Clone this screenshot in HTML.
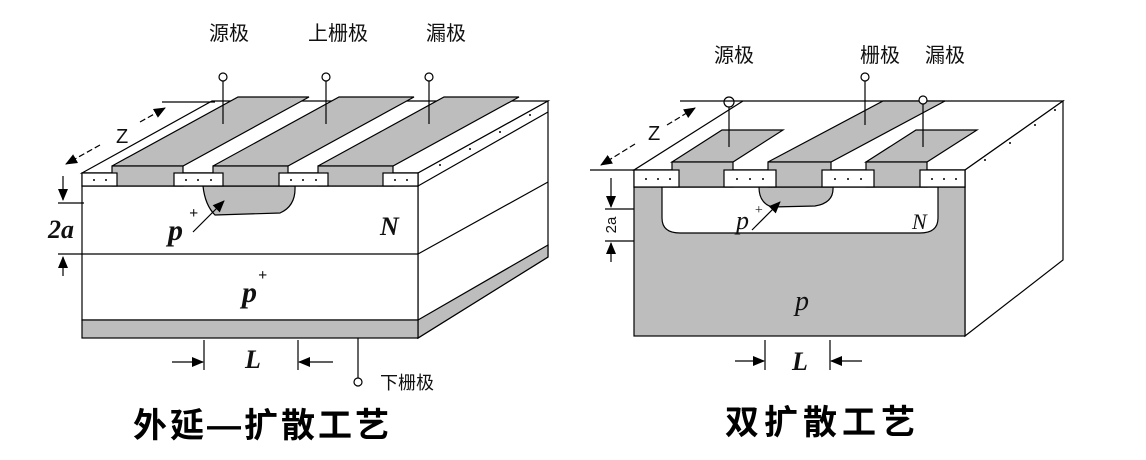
<!DOCTYPE html>
<html><head><meta charset="utf-8"><style>
html,body{margin:0;padding:0;background:#fff;}
svg{display:block;}
.cj{font-family:"Liberation Sans","Noto Sans CJK SC",sans-serif;}
.it{font-family:"Liberation Serif",serif;font-style:italic;}
</style></head><body>
<svg width="1146" height="460" viewBox="0 0 1146 460" xmlns="http://www.w3.org/2000/svg">
<defs>
<marker id="ah" markerWidth="12" markerHeight="10" refX="11" refY="5" orient="auto" markerUnits="userSpaceOnUse"><path d="M0,0 L12,5 L0,10 z" fill="#000"/></marker>
</defs>
<g stroke="#000" stroke-width="1.2" fill="none">
<polygon points="82,173 212,101 548,101 418,173" fill="#fff"/>
<polygon points="418,173 548,101 548,257 418,338" fill="#fff"/>
<polygon points="418,320 548,245 548,257 418,338" fill="#bdbdbd"/>
<line x1="418" y1="186" x2="548" y2="112"/>
<line x1="418" y1="254" x2="548" y2="182"/>
<rect x="82" y="186" width="336" height="134" fill="#fff"/>
<rect x="82" y="320" width="336" height="18" fill="#bdbdbd"/>
<line x1="82" y1="254" x2="418" y2="254"/>
<path d="M203,186 L295,186 Q296,206 280,213 L215,215 Q205,205 203,186 z" fill="#bdbdbd"/>
<rect x="82" y="173" width="336" height="13" fill="#fff"/>
<polygon points="112,166 238,97 309,97 183,166" fill="#bdbdbd"/>
<polygon points="213,166 339,97 414,97 288,166" fill="#bdbdbd"/>
<polygon points="318,166 444,97 519,97 393,166" fill="#bdbdbd"/>
<rect x="112" y="166" width="71" height="20" fill="#bdbdbd"/>
<rect x="213" y="166" width="75" height="20" fill="#bdbdbd"/>
<rect x="318" y="166" width="75" height="20" fill="#bdbdbd"/>
<rect x="82" y="173" width="35" height="13" fill="#fff"/>
<rect x="174" y="173" width="49" height="13" fill="#fff"/>
<rect x="279" y="173" width="49" height="13" fill="#fff"/>
<rect x="383" y="173" width="35" height="13" fill="#fff"/>
<line x1="223" y1="81" x2="223" y2="124"/>
<line x1="326" y1="81" x2="326" y2="124"/>
<line x1="429" y1="81" x2="429" y2="124"/>
<circle cx="223" cy="77" r="4" fill="#fff"/>
<circle cx="326" cy="77" r="4" fill="#fff"/>
<circle cx="429" cy="77" r="4" fill="#fff"/>
<line x1="162" y1="102" x2="215" y2="102"/>
<line x1="140" y1="122" x2="165" y2="108" stroke-dasharray="6,3" marker-end="url(#ah)"/>
<line x1="100" y1="145" x2="66" y2="164" stroke-dasharray="6,3" marker-end="url(#ah)"/>
<line x1="63" y1="176" x2="63" y2="200" marker-end="url(#ah)"/>
<line x1="58" y1="203" x2="84" y2="203"/>
<line x1="58" y1="254" x2="82" y2="254"/>
<line x1="63" y1="276" x2="63" y2="257" marker-end="url(#ah)"/>
<line x1="193" y1="232" x2="224" y2="201" marker-end="url(#ah)"/>
<line x1="204" y1="340" x2="204" y2="370"/>
<line x1="298" y1="340" x2="298" y2="370"/>
<line x1="172" y1="362" x2="203" y2="362" marker-end="url(#ah)"/>
<line x1="333" y1="362" x2="299" y2="362" marker-end="url(#ah)"/>
<line x1="358" y1="338" x2="358" y2="378"/>
<circle cx="358" cy="382" r="4" fill="#fff"/>

<polygon points="634,170 743,101 1063,101 965,170" fill="#fff"/>
<polygon points="965,170 1063,101 1063,260 965,336" fill="#fff"/>
<rect x="634" y="187" width="331" height="149" fill="#bdbdbd"/>
<path d="M662,187 L662,218 Q662,233 680,233 L920,233 Q938,233 938,218 L938,187 z" fill="#fff"/>
<path d="M759,187 L833,187 Q834,203 815,206 L772,207 Q759,203 759,187 z" fill="#bdbdbd"/>
<rect x="634" y="170" width="331" height="17" fill="#fff"/>
<polygon points="672,162 722,130 783,130 733,162" fill="#bdbdbd"/>
<polygon points="768,162 883,101 945,101 831,162" fill="#bdbdbd"/>
<polygon points="866,162 916,130 977,130 927,162" fill="#bdbdbd"/>
<rect x="672" y="162" width="61" height="25" fill="#bdbdbd"/>
<rect x="768" y="162" width="63" height="25" fill="#bdbdbd"/>
<rect x="866" y="162" width="61" height="25" fill="#bdbdbd"/>
<rect x="634" y="170" width="45" height="17" fill="#fff"/>
<rect x="724" y="170" width="52" height="17" fill="#fff"/>
<rect x="822" y="170" width="52" height="17" fill="#fff"/>
<rect x="920" y="170" width="45" height="17" fill="#fff"/>
<line x1="729" y1="107" x2="729" y2="147"/>
<line x1="865" y1="81" x2="865" y2="125"/>
<line x1="923" y1="104" x2="923" y2="147"/>
<circle cx="729" cy="102" r="5" fill="#fff"/>
<circle cx="865" cy="77" r="4" fill="#fff"/>
<circle cx="923" cy="100" r="4" fill="#fff"/>
<line x1="680" y1="101" x2="743" y2="101"/>
<line x1="590" y1="170" x2="634" y2="170"/>
<line x1="667" y1="125" x2="695" y2="108" stroke-dasharray="6,3" marker-end="url(#ah)"/>
<line x1="635" y1="144" x2="601" y2="165" stroke-dasharray="6,3" marker-end="url(#ah)"/>
<line x1="611" y1="178" x2="611" y2="207" marker-end="url(#ah)"/>
<line x1="605" y1="209" x2="634" y2="209"/>
<line x1="605" y1="241" x2="634" y2="241"/>
<line x1="611" y1="262" x2="611" y2="243" marker-end="url(#ah)"/>
<line x1="752" y1="230" x2="780" y2="202" marker-end="url(#ah)"/>
<line x1="765" y1="340" x2="765" y2="370"/>
<line x1="830" y1="340" x2="830" y2="370"/>
<line x1="735" y1="361" x2="764" y2="361" marker-end="url(#ah)"/>
<line x1="862" y1="361" x2="831" y2="361" marker-end="url(#ah)"/>
</g>
<g fill="#000">
<circle cx="94" cy="180" r="1"/><circle cx="106" cy="180" r="1"/>
<circle cx="186" cy="180" r="1"/><circle cx="198" cy="180" r="1"/><circle cx="211" cy="180" r="1"/>
<circle cx="291" cy="180" r="1"/><circle cx="303" cy="180" r="1"/><circle cx="316" cy="180" r="1"/>
<circle cx="395" cy="180" r="1"/><circle cx="407" cy="180" r="1"/>
<circle cx="646" cy="179" r="1"/><circle cx="658" cy="179" r="1"/><circle cx="670" cy="179" r="1"/>
<circle cx="737" cy="179" r="1"/><circle cx="750" cy="179" r="1"/><circle cx="763" cy="179" r="1"/>
<circle cx="835" cy="179" r="1"/><circle cx="848" cy="179" r="1"/><circle cx="861" cy="179" r="1"/>
<circle cx="932" cy="179" r="1"/><circle cx="944" cy="179" r="1"/><circle cx="956" cy="179" r="1"/>
<circle cx="440" cy="165" r="1"/><circle cx="470" cy="149" r="1"/><circle cx="500" cy="132" r="1"/><circle cx="530" cy="115" r="1"/>
<circle cx="985" cy="160" r="1"/><circle cx="1010" cy="143" r="1"/><circle cx="1035" cy="125" r="1"/><circle cx="1055" cy="110" r="1"/>
</g>
<g class="cj" font-size="20" fill="#111" text-anchor="middle">
<text x="229" y="40">源极</text>
<text x="338" y="40">上栅极</text>
<text x="446" y="40">漏极</text>
<text x="734" y="62">源极</text>
<text x="880" y="62">栅极</text>
<text x="945" y="62">漏极</text>
<text x="380" y="389" text-anchor="start" font-size="18">下栅极</text>
</g>
<g class="cj" font-weight="bold" fill="#000">
<text x="133" y="437" font-size="34" letter-spacing="3">外延—扩散工艺</text>
<text x="725" y="434" font-size="34" letter-spacing="5">双扩散工艺</text>
</g>
<g class="it" fill="#111">
<text x="116" y="143" font-size="20" font-style="normal" font-family="Liberation Sans,sans-serif">Z</text>
<text x="648" y="140" font-size="20" font-style="normal" font-family="Liberation Sans,sans-serif">Z</text>
<text x="48" y="238" font-size="26" font-weight="bold">2a</text>
<text x="168" y="240" font-size="30" font-weight="bold">p</text>
<text x="189" y="218" font-size="16" font-weight="bold">+</text>
<text x="380" y="235" font-size="26" font-weight="bold">N</text>
<text x="242" y="302" font-size="30" font-weight="bold">p</text>
<text x="258" y="280" font-size="16" font-weight="bold">+</text>
<text x="245" y="368" font-size="26" font-weight="bold">L</text>
<text x="736" y="229" font-size="26">p</text>
<text x="754" y="214" font-size="14">+</text>
<text x="912" y="229" font-size="22">N</text>
<text x="795" y="310" font-size="28">p</text>
<text x="792" y="370" font-size="26" font-weight="bold">L</text>
<text x="0" y="0" font-size="15" font-style="normal" font-family="Liberation Sans,sans-serif" text-anchor="middle" transform="translate(616 225) rotate(-90)">2a</text>
</g>
</svg>
</body></html>
